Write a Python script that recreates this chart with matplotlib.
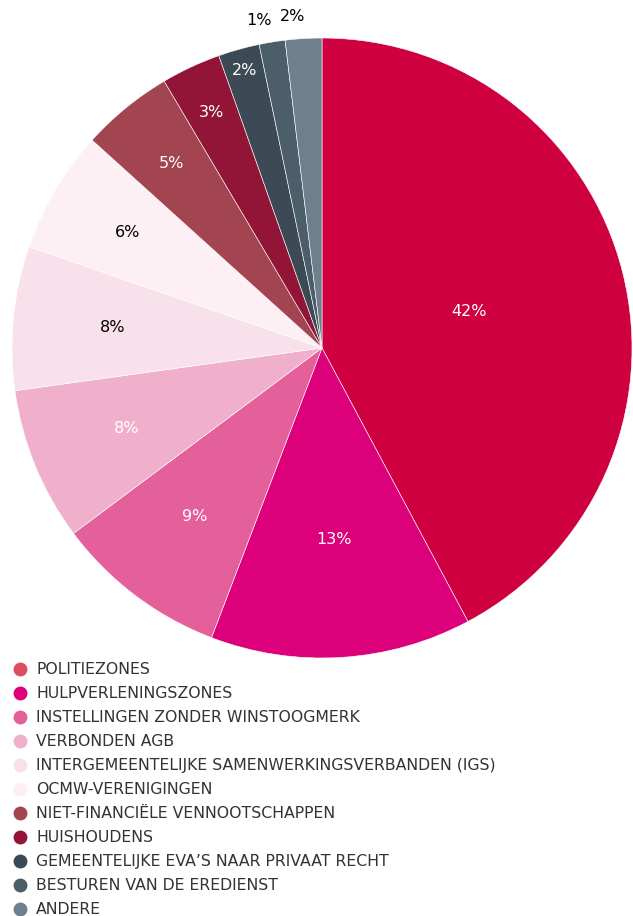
import numpy as np
import matplotlib.pyplot as plt
from matplotlib.lines import Line2D

# aandeel per categorie (in %)
categories = ["POLITIEZONES", "HULPVERLENINGSZONES", "INSTELLINGEN ZONDER WINSTOOGMERK",
              "VERBONDEN AGB", "INTERGEMEENTELIJKE SAMENWERKINGSVERBANDEN (IGS)",
              "OCMW-VERENIGINGEN", "NIET-FINANCIËLE VENNOOTSCHAPPEN", "HUISHOUDENS",
              "GEMEENTELIJKE EVA\u2019S NAAR PRIVAAT RECHT", "BESTUREN VAN DE EREDIENST", "ANDERE"]
values = [42.2, 13.6, 9.0, 8.0, 7.5, 6.4, 4.8, 3.1, 2.15, 1.35, 1.9]
pct_labels = ["42%", "13%", "9%", "8%", "8%", "6%", "5%", "3%", "2%", "1%", "2%"]

slice_colors = ["#ce0040", "#dc007a", "#e3609a", "#f0b0cb", "#f8e1ea", "#fcf0f4",
                "#a34550", "#921537", "#3c4a55", "#4d5e6b", "#6e808e"]
legend_colors = ["#da4e60"] + slice_colors[1:]
label_colors = ["white", "white", "white", "white", "black", "black",
                "white", "white", "white", "black", "black"]
label_r = [0.49, 0.62, 0.68, 0.68, 0.68, 0.73, 0.77, 0.84, 0.93, 1.07, 1.07]

plt.rcParams["font.family"] = ["DejaVu Sans"]

fig = plt.figure(figsize=(6.33, 9.16), dpi=100)
ax = fig.add_axes([12 / 633, 1 - 658 / 916, 620 / 633, 620 / 916])

wedges, _ = ax.pie(values, colors=slice_colors, startangle=90, counterclock=False,
                   wedgeprops=dict(edgecolor="white", linewidth=0.4))
ax.set_xlim(-1, 1)
ax.set_ylim(-1, 1)
ax.set_aspect("equal")

for w, txt, col, r in zip(wedges, pct_labels, label_colors, label_r):
    ang = np.deg2rad((w.theta1 + w.theta2) / 2)
    x, y = r * np.cos(ang), r * np.sin(ang)
    if r > 1:
        x -= 0.03
    ax.text(x, y, txt, ha="center", va="center", color=col, fontsize=11.5)

handles = [Line2D([], [], marker="o", linestyle="none", markersize=10,
                  markerfacecolor=c, markeredgecolor="none") for c in legend_colors]
leg = fig.legend(handles, categories, loc="upper left", bbox_to_anchor=(13 / 633, 1 - 662 / 916),
                 frameon=False, fontsize=11.3, labelspacing=0.575, handlelength=0.9,
                 handletextpad=0.57, borderaxespad=0, borderpad=0.0)
for t in leg.get_texts():
    t.set_color("#333333")

fig.savefig("out.png", dpi=100)
